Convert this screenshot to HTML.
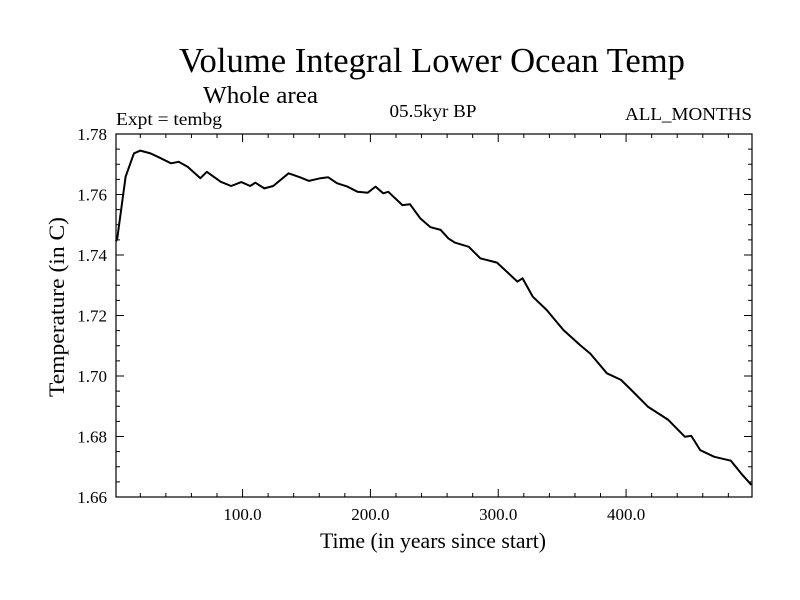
<!DOCTYPE html>
<html><head><meta charset="utf-8"><style>
html,body{margin:0;padding:0;background:#fff;}
svg{display:block;font-family:"Liberation Serif",serif;}
</style></head><body>
<svg id="chart" width="800" height="600" xmlns="http://www.w3.org/2000/svg">
<rect width="800" height="600" fill="#fff"/>
<text x="432" y="72" font-size="35" text-anchor="middle" textLength="506" lengthAdjust="spacingAndGlyphs">Volume Integral Lower Ocean Temp</text>
<text x="203" y="103" font-size="24" textLength="115" lengthAdjust="spacingAndGlyphs">Whole area</text>
<text x="116" y="125" font-size="18" textLength="106" lengthAdjust="spacingAndGlyphs">Expt = tembg</text>
<text x="433" y="117" font-size="18" text-anchor="middle" textLength="87" lengthAdjust="spacingAndGlyphs">05.5kyr BP</text>
<text x="752" y="120" font-size="18" text-anchor="end" textLength="127" lengthAdjust="spacingAndGlyphs">ALL_MONTHS</text>
<text x="433" y="548" font-size="22" text-anchor="middle" textLength="226" lengthAdjust="spacingAndGlyphs">Time (in years since start)</text>
<text transform="translate(64,307) rotate(-90)" font-size="22" text-anchor="middle" textLength="180" lengthAdjust="spacingAndGlyphs">Temperature (in C)</text>
<g id="axes"></g>
<path id="series" fill="none" stroke="#000" stroke-width="2" stroke-linejoin="round"/>
<rect x="116" y="134" width="636" height="363" fill="none" stroke="#000" stroke-width="1.2"/>
</svg>
<script>
const years = [1,2,8.5,15,20,28,36,44,50,57,67,72,83,91,99,106,110,117,124,136,145,152,161,167,174,182,190,198,204,210,214,225,231,239,247,255,261,266,277,286,299,315,319,327,338,351,364,372,385,396,404,417,433,446,451,458,469,482,490,498];
const temps = [1.7445,1.7456,1.7659,1.7736,1.7745,1.7736,1.7720,1.7703,1.7708,1.7692,1.7654,1.7675,1.7642,1.7628,1.7641,1.7628,1.7639,1.7620,1.7628,1.7670,1.7657,1.7645,1.7654,1.7657,1.7637,1.7626,1.7609,1.7606,1.7626,1.7604,1.7609,1.7565,1.7568,1.7521,1.7492,1.7483,1.7455,1.7441,1.7427,1.7389,1.7375,1.7312,1.7323,1.7262,1.7218,1.7152,1.7102,1.7074,1.7009,1.6987,1.6954,1.6899,1.6855,1.6799,1.6802,1.6755,1.6733,1.6720,1.6678,1.6640];
const xTicks = [100,200,300,400];
const xTickLabels = ["100.0","200.0","300.0","400.0"];
const yTicks = [1.66,1.68,1.70,1.72,1.74,1.76,1.78];
const yTickLabels = ["1.66","1.68","1.70","1.72","1.74","1.76","1.78"];
const X0=116,X1=752,Y0=497,Y1=134,XMIN=1,XMAX=498.5,YMIN=1.66,YMAX=1.78;
const sx=v=>X0+(v-XMIN)/(XMAX-XMIN)*(X1-X0);
const sy=v=>Y0-(v-YMIN)/(YMAX-YMIN)*(Y0-Y1);
const NS="http://www.w3.org/2000/svg";
const g=document.getElementById('axes');
function ln(x1,y1,x2,y2,name){const l=document.createElementNS(NS,'line');
l.setAttribute('x1',x1);l.setAttribute('y1',y1);l.setAttribute('x2',x2);l.setAttribute('y2',y2);
l.setAttribute('stroke','#000');l.setAttribute('stroke-width','1');


g.appendChild(l);}
function tx(x,y,s,anchor,name){const t=document.createElementNS(NS,'text');
t.setAttribute('x',x);t.setAttribute('y',y);t.setAttribute('font-size','17');t.setAttribute('text-anchor',anchor);t.textContent=s;


g.appendChild(t);}
for(let v=20;v<XMAX;v+=20){const x=sx(v);const major=v%100===0;const L=major?8:4;
ln(x,Y0,x,Y0-L,'x-tick');ln(x,Y1,x,Y1+L,'x-tick-top');}
xTicks.forEach((v,i)=>tx(sx(v),520,xTickLabels[i],'middle','x-tick-label'));
for(let k=0;k<=24;k++){const v=YMIN+k*0.005;const y=sy(v);const major=k%4===0;const L=major?8:4;
ln(X0,y,X0+L,y,'y-tick');ln(X1,y,X1-L,y,'y-tick-right');}
yTicks.forEach((v,i)=>tx(107,sy(v)+6,yTickLabels[i],'end','y-tick-label'));
document.getElementById('series').setAttribute('d',years.map((v,i)=>(i?'L':'M')+sx(v).toFixed(1)+','+sy(temps[i]).toFixed(1)).join(''));
</script>
</body></html>
